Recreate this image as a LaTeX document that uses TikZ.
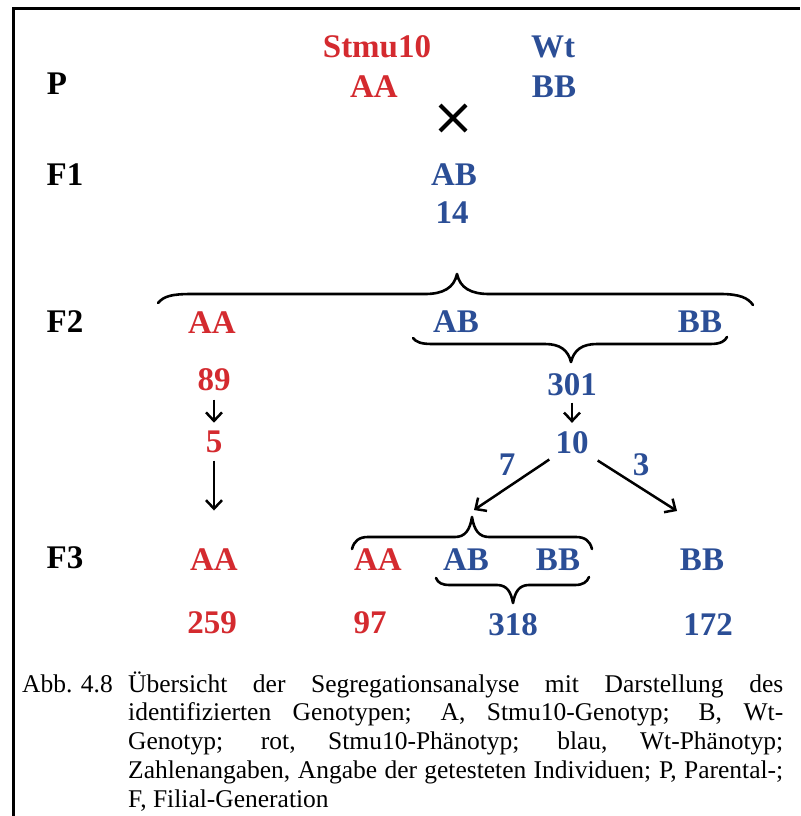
\documentclass[tikz,border=0pt]{standalone}
\usepackage{fontspec}
\setmainfont{Liberation Serif}
\usetikzlibrary{arrows.meta}
\definecolor{gred}{RGB}{212,42,47}
\definecolor{gblue}{RGB}{43,78,150}
\begin{document}
\begin{tikzpicture}[x=1pt,y=-1pt,
  lab/.style={anchor=base,inner sep=0pt,font=\fontsize{33}{36}\selectfont\bfseries},
  blk/.style={lab,text=black},
  rl/.style={lab,text=gred},
  bl/.style={lab,text=gblue},
  brc/.style={line width=2.6pt,line cap=round,line join=round},
  arr/.style={line width=2.5pt,-{Straight Barb[length=8.5pt,width=16pt]}},
  captxt/.style={anchor=base west,inner sep=0pt,font=\fontsize{25.5}{28}\selectfont}]
\useasboundingbox (0,0) rectangle (800,816);
\fill[white] (0,0) rectangle (800,816);
% frame
\draw[line width=3pt] (13.5,816) -- (13.5,8.5) -- (800,8.5);
% generation labels
\node[blk] (P) at (57,94) {P};
\node[blk] (F1) at (65,185) {F1};
\node[blk] (F2) at (65,332) {F2};
\node[blk] (F3) at (65,568) {F3};
% P
\node[rl] (stmu) at (377,58) {Stmu10};
\node[rl] (pAA) at (374,97) {AA};
\node[bl] (wt) at (553,57) {Wt};
\node[bl] (pBB) at (554,97) {BB};
\node[inner sep=0pt] (cross) at (453,118) {};
\draw[line width=4pt] ([shift={(-13pt,13pt)}]cross.center) -- ([shift={(13pt,-13pt)}]cross.center);
\draw[line width=4pt] ([shift={(-13pt,-13pt)}]cross.center) -- ([shift={(13pt,13pt)}]cross.center);
% F1
\node[bl] (f1AB) at (454,185) {AB};
\node[bl] (f1n) at (452,223) {14};
% F2
\node[rl] (f2AA) at (212,333) {AA};
\node[bl] (f2AB) at (456,332) {AB};
\node[bl] (f2BB) at (700,332) {BB};
\node[rl] (n89) at (214,390) {89};
\node[rl] (n5) at (214,452) {5};
\node[bl] (n301) at (572,395) {301};
\node[bl] (n10) at (572,453) {10};
\node[bl] (n7) at (507,475) {7};
\node[bl] (n3) at (641,475) {3};
% F3
\node[rl] (f3AA) at (214,570) {AA};
\node[rl] (f3AAm) at (378,570) {AA};
\node[bl] (f3AB) at (466,570) {AB};
\node[bl] (f3BB) at (558,570) {BB};
\node[bl] (f3BBr) at (702,570) {BB};
\node[rl] (c259) at (212,633) {259};
\node[rl] (c97) at (370,633) {97};
\node[bl] (c318) at (513,635) {318};
\node[bl] (c172) at (708,635) {172};
% braces
\draw[brc] (158,303) .. controls (164,296) and (172,294) .. (192,294) -- (425,294)
  .. controls (443,294) and (454,288) .. (457,274) coordinate (tipA)
  .. controls (460,288) and (471,294) .. (489,294) -- (720,294)
  .. controls (740,294) and (748,298) .. (753,305);
\draw[brc] (413,338) .. controls (416,342) and (421,344) .. (432,344) -- (545,344)
  .. controls (560,344) and (568,350) .. (571,362) coordinate (tipB)
  .. controls (574,350) and (582,344) .. (597,344) -- (710,344)
  .. controls (721,344) and (725,341) .. (727,337);
\draw[brc] (352,549) .. controls (354,541) and (359,537) .. (368,537) -- (455,537)
  .. controls (465,537) and (470,530) .. (472,517) coordinate (tipC)
  .. controls (474,530) and (479,537) .. (489,537) -- (576,537)
  .. controls (585,537) and (590,541) .. (592,549);
\draw[brc] (436,578) .. controls (438,583) and (442,585) .. (450,585) -- (497,585)
  .. controls (507,585) and (511,592) .. (513,603) coordinate (tipD)
  .. controls (515,592) and (519,585) .. (529,585) -- (575,585)
  .. controls (583,585) and (587,582) .. (589,577);
% arrows
\coordinate (a3) at (677,511);
\draw[arr,shorten <=9pt,shorten >=7.5pt] (n89.south) -- (n5.north);
\draw[arr,shorten <=8pt,shorten >=37.5pt] (n5.south) -- (f3AA.north);
\draw[arr,shorten <=7pt,shorten >=8pt] (n301.south) -- (n10.north);
\draw[arr] ([shift={(-6pt,-6pt)}]n10.south west) -- ([shift={(2pt,7pt)}]tipC);
\draw[arr] ([shift={(9pt,-7pt)}]n10.south east) -- (a3);
% caption
\node[captxt] (abb) at (22,692) {Abb. 4.8};
\node[captxt] (l1) at (128,692) {\makebox[655pt][s]{Übersicht der Segregationsanalyse mit Darstellung des}};
\node[captxt] (l2) at (128,720.75) {\makebox[655pt][s]{identifizierten Genotypen; A, Stmu10-Genotyp; B, Wt-}};
\node[captxt] (l3) at (128,749.5) {\makebox[655pt][s]{Genotyp; rot, Stmu10-Phänotyp; blau, Wt-Phänotyp;}};
\node[captxt] (l4) at (128,778.25) {\makebox[655pt][s]{Zahlenangaben, Angabe der getesteten Individuen; P, Parental-;}};
\node[captxt] (l5) at (128,807) {F, Filial-Generation};
\end{tikzpicture}
\end{document}
